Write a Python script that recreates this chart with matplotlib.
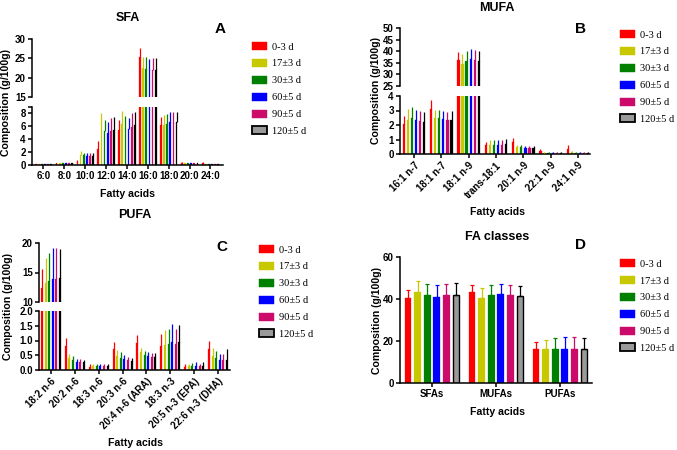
import numpy as np
import matplotlib
matplotlib.use('Agg')
import matplotlib.pyplot as plt
from matplotlib.patches import Patch

# groups (sampling time)
series = ['0-3 d', '17±3 d', '30±3 d', '60±5 d', '90±5 d', '120±5 d']
colors = ['#FF0000', '#C8C800', '#008000', '#0000FF', '#CC0A6A', '#9A9A9A']
edges = ['#FF0000', '#C8C800', '#008000', '#0000FF', '#CC0A6A', 'black']
err_colors = ['#FF0000', '#C8C800', '#008000', '#0000FF', '#CC0A6A', 'black']

# SFA (rows = fatty acid, cols = group); mean and upper SD
sfa_cats = ['6:0', '8:0', '10:0', '12:0', '14:0', '16:0', '18:0', '20:0', '24:0']
sfa_mean = [[0.08, 0.1, 0.1, 0.1, 0.1, 0.1],
            [0.25, 0.25, 0.25, 0.25, 0.25, 0.25],
            [0.45, 1.6, 1.5, 1.4, 1.4, 1.4],
            [2.5, 6.0, 5.3, 5.0, 5.3, 5.4],
            [5.4, 6.3, 5.7, 5.6, 5.9, 6.2],
            [25.3, 22.4, 22.3, 22.0, 22.0, 21.9],
            [6.2, 6.2, 6.4, 6.6, 6.5, 6.6],
            [0.35, 0.25, 0.25, 0.25, 0.25, 0.25],
            [0.3, 0.12, 0.1, 0.1, 0.1, 0.1]]
sfa_sd = [[0.05, 0.05, 0.05, 0.05, 0.05, 0.05],
          [0.1, 0.1, 0.1, 0.1, 0.1, 0.1],
          [0.4, 0.5, 0.4, 0.5, 0.5, 0.5],
          [1.3, 2.1, 1.7, 1.7, 2.0, 2.0],
          [1.6, 2.1, 1.9, 1.7, 2.1, 2.0],
          [2.5, 2.9, 3.1, 2.9, 3.0, 3.1],
          [1.3, 1.5, 1.5, 1.7, 1.7, 1.7],
          [0.08, 0.08, 0.08, 0.08, 0.08, 0.08],
          [0.15, 0.05, 0.05, 0.05, 0.05, 0.05]]

# MUFA
mufa_cats = ['16:1 n-7', '18:1 n-7', '18:1 n-9', 'trans-18:1', '20:1 n-9', '22:1 n-9', '24:1 n-9']
mufa_mean = [[2.05, 2.35, 2.5, 2.35, 2.25, 2.2],
             [3.1, 2.5, 2.5, 2.4, 2.35, 2.35],
             [36.0, 34.5, 35.7, 36.5, 36.0, 35.6],
             [0.6, 0.6, 0.62, 0.65, 0.65, 0.68],
             [0.85, 0.45, 0.45, 0.4, 0.38, 0.38],
             [0.2, 0.1, 0.1, 0.1, 0.1, 0.1],
             [0.35, 0.12, 0.08, 0.08, 0.08, 0.08]]
mufa_sd = [[0.6, 0.75, 0.75, 0.7, 0.7, 0.7],
           [0.6, 0.55, 0.55, 0.55, 0.55, 0.6],
           [3.5, 4.5, 4.5, 4.5, 4.7, 4.4],
           [0.2, 0.35, 0.35, 0.33, 0.35, 0.37],
           [0.25, 0.2, 0.17, 0.15, 0.17, 0.14],
           [0.15, 0.05, 0.05, 0.05, 0.05, 0.05],
           [0.27, 0.08, 0.04, 0.04, 0.04, 0.05]]

# PUFA
pufa_cats = ['18:2 n-6', '20:2 n-6', '18:3 n-6', '20:3 n-6', '20:4 n-6 (ARA)',
             '18:3 n-3', '20:5 n-3 (EPA)', '22:6 n-3 (DHA)']
pufa_mean = [[12.3, 13.2, 13.5, 13.9, 13.9, 14.0],
             [0.82, 0.4, 0.35, 0.28, 0.28, 0.27],
             [0.1, 0.13, 0.14, 0.13, 0.13, 0.13],
             [0.72, 0.48, 0.42, 0.37, 0.33, 0.3],
             [0.92, 0.6, 0.5, 0.47, 0.45, 0.45],
             [0.82, 0.85, 0.88, 0.95, 0.88, 0.95],
             [0.1, 0.12, 0.12, 0.15, 0.12, 0.13],
             [0.7, 0.48, 0.4, 0.35, 0.35, 0.35]]
pufa_sd = [[3.3, 4.3, 4.8, 5.2, 5.2, 5.0],
           [0.26, 0.15, 0.12, 0.1, 0.09, 0.08],
           [0.1, 0.07, 0.06, 0.07, 0.06, 0.06],
           [0.23, 0.19, 0.18, 0.15, 0.12, 0.12],
           [0.28, 0.15, 0.15, 0.13, 0.13, 0.13],
           [0.41, 0.51, 0.52, 0.62, 0.52, 0.57],
           [0.1, 0.08, 0.13, 0.12, 0.08, 0.14],
           [0.28, 0.27, 0.25, 0.2, 0.2, 0.37]]

# FA classes
cls_cats = ['SFAs', 'MUFAs', 'PUFAs']
cls_mean = [[40.3, 43.2, 41.8, 41.0, 41.8, 42.1],
            [43.2, 40.5, 41.8, 42.3, 41.8, 41.3],
            [16.2, 16.1, 16.2, 16.4, 16.2, 16.3]]
cls_sd = [[4.2, 5.5, 5.5, 5.5, 5.5, 5.5],
          [3.6, 4.8, 4.8, 4.8, 4.9, 4.7],
          [3.5, 4.5, 5.0, 5.4, 5.5, 5.3]]

W, H = 677, 450
fig = plt.figure(figsize=(W / 100, H / 100), dpi=100)
bold = dict(family='Liberation Sans', weight='bold')


def add_ax(x0, x1, ytop, ybot):
    return fig.add_axes([x0 / W, 1 - ybot / H, (x1 - x0) / W, (ybot - ytop) / H])


def style(ax):
    for s in ['top', 'right']:
        ax.spines[s].set_visible(False)
    for s in ['left', 'bottom']:
        ax.spines[s].set_linewidth(1.1)
    ax.tick_params(direction='out', length=3, width=1.1, labelsize=7, pad=1.5)
    for lab in ax.get_xticklabels() + ax.get_yticklabels():
        lab.set_fontweight('bold')
        lab.set_family('Liberation Sans')


def draw_bars(ax, mean, sd, cap=0, narrow=True):
    m = np.array(mean).T
    s = np.array(sd).T
    x = np.arange(m.shape[1])
    width = 0.085 if narrow else 0.105
    for i in range(6):
        off = (i - 2.5) * 0.15
        face = 'black' if (narrow and i == 5) else colors[i]
        ax.bar(x + off, m[i], width=width, color=face, edgecolor=edges[i],
               linewidth=1.0 if (i == 5 and not narrow) else 0.2, zorder=2)
        ax.errorbar(x + off, m[i], yerr=[np.zeros_like(s[i]), s[i]], fmt='none',
                    ecolor=err_colors[i], elinewidth=0.9, capsize=cap, capthick=0.9, zorder=3)


def broken_panel(x0, x1, up, lo, cats, mean, sd, up_lim, up_ticks, lo_lim, lo_ticks,
                 lo_labels, xlim, rot):
    ax_up = add_ax(x0, x1, up[0], up[1])
    ax_lo = add_ax(x0, x1, lo[0], lo[1])
    for ax in (ax_up, ax_lo):
        draw_bars(ax, mean, sd)
        ax.set_xlim(*xlim)
    ax_up.set_ylim(*up_lim)
    ax_up.set_yticks(up_ticks)
    ax_up.set_yticklabels([str(t) for t in up_ticks])
    ax_up.set_xticks([])
    ax_lo.set_ylim(*lo_lim)
    ax_lo.set_yticks(lo_ticks)
    ax_lo.set_yticklabels(lo_labels)
    ax_lo.set_xticks(np.arange(len(cats)))
    if rot:
        ax_lo.set_xticklabels(cats, rotation=45, ha='right', rotation_mode='anchor')
    else:
        ax_lo.set_xticklabels(cats)
    style(ax_up)
    style(ax_lo)
    ax_up.spines['bottom'].set_visible(False)
    return ax_up, ax_lo


def legend(x, y):
    handles = [Patch(facecolor=colors[i], edgecolor=edges[i], linewidth=1.3 if i == 5 else 0.3)
               for i in range(6)]
    fig.legend(handles, series, loc='upper left', bbox_to_anchor=(x / W, 1 - y / H),
               frameon=False, prop=dict(family='Liberation Serif', size=7.5),
               handlelength=1.4, handleheight=0.8, handletextpad=0.55,
               labelspacing=0.7, borderaxespad=0, borderpad=0)


def labels(title, tx, ty, letter, lx, ly, ylx, yly, xlx, xly):
    fig.text(tx / W, 1 - ty / H, title, ha='center', va='center', fontsize=9, **bold)
    fig.text(lx / W, 1 - ly / H, letter, ha='center', va='center', fontsize=11, **bold)
    fig.text(ylx / W, 1 - yly / H, 'Composition (g/100g)', rotation=90,
             ha='center', va='center', fontsize=7.6, **bold)
    fig.text(xlx / W, 1 - xly / H, 'Fatty acids', ha='center', va='center', fontsize=7.6, **bold)


# A: SFA
broken_panel(32, 223, (39, 97), (107, 165), sfa_cats, sfa_mean, sfa_sd,
             (15, 30), [15, 20, 25, 30], (0, 9), [0, 2, 4, 6, 8, 9],
             ['0', '2', '4', '6', '8', ''], (-0.55, 8.6), False)
labels('SFA', 128, 18, 'A', 220, 29, 6, 102, 128, 194)
legend(252, 42)

# B: MUFA
broken_panel(400, 590, (28, 86), (96, 154), mufa_cats, mufa_mean, mufa_sd,
             (25, 50), [25, 30, 35, 40, 45, 50], (0, 4), [0, 1, 2, 3, 4],
             ['0', '1', '2', '3', '4'], (-0.51, 6.44), True)
labels('MUFA', 497, 8, 'B', 580, 29, 376, 91, 497, 212)
legend(620, 30)

# C: PUFA
broken_panel(39, 230, (243, 302), (311, 370), pufa_cats, pufa_mean, pufa_sd,
             (10, 20), [10, 15, 20], (0, 2), [0, 0.5, 1.0, 1.5, 2.0],
             ['0.0', '0.5', '1.0', '1.5', '2.0'], (-0.5, 7.5), True)
labels('PUFA', 135, 215, 'C', 222, 247, 8, 306, 135, 443)
legend(259, 245)

# D: FA classes
axd = add_ax(400, 592, 257, 383)
draw_bars(axd, cls_mean, cls_sd, cap=1.5, narrow=False)
axd.set_xlim(-0.5, 2.5)
axd.set_ylim(0, 60)
axd.set_yticks([0, 20, 40, 60])
axd.set_xticks(np.arange(len(cls_cats)))
axd.set_xticklabels(cls_cats)
style(axd)
labels('FA classes', 497, 237, 'D', 580, 245, 377, 320, 497, 412)
legend(620, 259)

fig.savefig('out.png', dpi=100)
